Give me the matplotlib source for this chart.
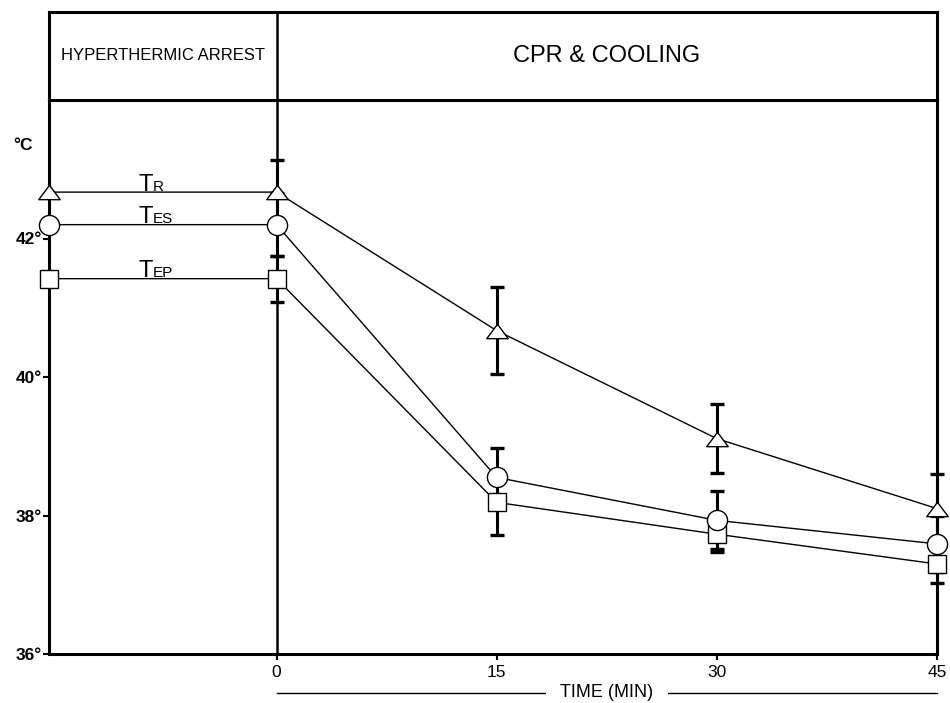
import matplotlib
matplotlib.use("Agg")
import matplotlib.pyplot as plt
import matplotlib.transforms as mtransforms

# time axis (min); first point is the hyperthermic arrest baseline at the panel edge
TIME_MIN = [-15.5, 0, 15, 30, 45]
XTICKS = [0, 15, 30, 45]
YTICKS = [36, 38, 40, 42]

TR_MEAN = [42.67, 42.67, 40.67, 39.11, 38.10]
TR_SD = [0.0, 0.47, 0.63, 0.50, 0.50]
TES_MEAN = [42.20, 42.20, 38.55, 37.93, 37.59]
TES_SD = [0.0, 0.45, 0.43, 0.42, 0.40]
TEP_MEAN = [41.42, 41.42, 38.19, 37.73, 37.30]
TEP_SD = [0.0, 0.33, 0.47, 0.25, 0.28]

# wide, flat triangle like the original drawing
TRIANGLE = [(0, 1), (-1.5, -1), (1.5, -1), (0, 1)]

SERIES = [
    ("T", "EP", TEP_MEAN, TEP_SD, "s", 13.5),
    ("T", "ES", TES_MEAN, TES_SD, "o", 14.5),
    ("T", "R", TR_MEAN, TR_SD, TRIANGLE, 15.5),
]

PHASES = ["HYPERTHERMIC ARREST", "CPR & COOLING"]
XLIM = (-15.5, 45)
YLIM = (36, 44)
LABEL_X = -9.4

plt.rcParams.update({
    "font.family": ["Liberation Sans", "DejaVu Sans"],
    "font.size": 12,
})

W, H = 950, 703
fig = plt.figure(figsize=(W / 100, H / 100), dpi=100)
ax = fig.add_axes([49 / W, 1 - 654 / H, (937 - 49) / W, (654 - 100) / H])
hdr = fig.add_axes([49 / W, 1 - 100 / H, (937 - 49) / W, (100 - 12) / H])

for a in (ax, hdr):
    for sp in a.spines.values():
        sp.set_linewidth(2.2)
    a.set_xlim(XLIM)
    a.axvline(0, color="black", lw=1.8, zorder=1)

# header boxes
hdr.set_ylim(0, 1)
hdr.set_xticks([])
hdr.set_yticks([])
hdr.text((XLIM[0] + 0) / 2, 0.5, PHASES[0], ha="center", va="center", fontsize=12)
hdr.text((0 + XLIM[1]) / 2, 0.5, PHASES[1], ha="center", va="center", fontsize=17)

# data
for big, small, mean, sd, mk, ms in SERIES:
    ax.errorbar(TIME_MIN[1:], mean[1:], yerr=sd[1:], fmt="none", ecolor="black",
                elinewidth=2.2, capsize=5, capthick=2.4, zorder=2, clip_on=False)
for big, small, mean, sd, mk, ms in SERIES:
    ax.plot(TIME_MIN, mean, color="black", lw=1.0, marker=mk, markersize=ms,
            markerfacecolor="white", markeredgecolor="black", markeredgewidth=1.0,
            zorder=3, clip_on=False)
    ax.annotate(big, (LABEL_X, mean[0]), xytext=(0, 1), textcoords="offset points",
                ha="left", va="baseline", fontsize=17)
    ax.annotate(small, (LABEL_X, mean[0]), xytext=(10, 1), textcoords="offset points",
                ha="left", va="baseline", fontsize=11)

ax.set_ylim(YLIM)
ax.set_yticks(YTICKS, labels=[f"{v}°" for v in YTICKS], fontweight="bold")
ax.set_xticks(XTICKS, labels=[str(v) for v in XTICKS])
ax.tick_params(axis="y", direction="out", length=4, width=1.5, pad=1, labelsize=12.5)
ax.tick_params(axis="x", direction="out", length=4, width=1.5, pad=4, labelsize=12.5)

fig.text(23 / W, 1 - 146 / H, "°C", ha="center", va="center", fontsize=12.5,
         fontweight="bold")

# x-axis title with rule on either side
trans = mtransforms.blended_transform_factory(ax.transData, ax.transAxes)
ax.plot([XTICKS[0], XTICKS[-1]], [-0.07, -0.07], transform=trans, color="black",
        lw=1.0, clip_on=False)
ax.text((XTICKS[0] + XTICKS[-1]) / 2, -0.07, "TIME (MIN)", transform=trans,
        ha="center", va="center", fontsize=13,
        bbox=dict(boxstyle="square,pad=0.8", fc="white", ec="none"))

fig.savefig("out.png", dpi=100)
